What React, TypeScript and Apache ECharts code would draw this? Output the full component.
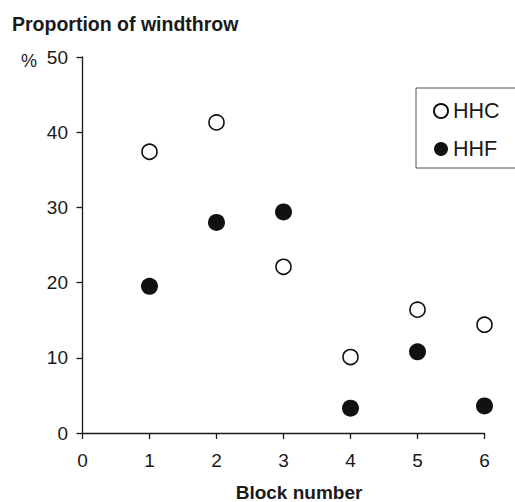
import React, { useEffect, useRef } from "react";
import * as echarts from "echarts";

const blocks = [1, 2, 3, 4, 5, 6];
const hhcValues = [37.4, 41.3, 22.1, 10.1, 16.4, 14.4];
const hhfValues = [19.5, 28.0, 29.4, 3.3, 10.8, 3.6];
const seriesNames = ["HHC", "HHF"];
const titleText = "Proportion of windthrow";
const xAxisTitle = "Block number";
const yUnit = "%";

const FONT = "'Liberation Sans', Arial, Helvetica, sans-serif";
const INK = "#1a1a1a";
const MARK = "#111111";

export default function App() {
  const ref = useRef<HTMLDivElement>(null);
  useEffect(() => {
    document.body.style.margin = "0";
    if (!ref.current) return;
    const chart = echarts.init(ref.current, null, { renderer: "svg" });
    chart.setOption({
      animation: false,
      backgroundColor: "#ffffff",
      textStyle: { fontFamily: FONT },
      title: {
        text: titleText,
        left: 12,
        top: 14,
        padding: 0,
        textStyle: { fontSize: 19.5, fontWeight: "bold", color: INK, fontFamily: FONT },
      },
      legend: {
        data: seriesNames,
        orient: "vertical",
        left: 416,
        top: 88,
        padding: [12, 17, 8, 17],
        itemGap: 16,
        itemWidth: 14,
        itemHeight: 14,
        icon: "circle",
        borderColor: "#555",
        borderWidth: 1,
        textStyle: { fontSize: 21.5, color: INK, fontFamily: FONT },
      },
      grid: { left: 82.5, right: 30.5, top: 57, bottom: 69, containLabel: false },
      xAxis: {
        type: "value",
        min: 0,
        max: 6,
        interval: 1,
        axisLine: { show: true, onZero: false, lineStyle: { color: INK, width: 1.3 } },
        axisTick: { show: true, inside: false, length: 6, lineStyle: { color: INK, width: 1.3 } },
        axisLabel: { margin: 18, fontSize: 19, color: INK, fontFamily: FONT },
        splitLine: { show: false },
      },
      yAxis: {
        type: "value",
        min: 0,
        max: 50,
        interval: 10,
        axisLine: { show: true, onZero: false, lineStyle: { color: INK, width: 1.3 } },
        axisTick: { show: true, inside: false, length: 6, lineStyle: { color: INK, width: 1.3 } },
        axisLabel: { margin: 14.5, fontSize: 19, color: INK, fontFamily: FONT },
        splitLine: { show: false },
      },
      graphic: [
        {
          type: "text",
          x: 21,
          y: 61,
          style: {
            text: yUnit,
            fontSize: 18,
            fill: INK,
            fontFamily: FONT,
            textAlign: "left",
            textVerticalAlign: "middle",
          },
        },
        {
          type: "text",
          x: 299,
          y: 492,
          style: {
            text: xAxisTitle,
            fontSize: 19,
            fontWeight: "bold",
            fill: INK,
            fontFamily: FONT,
            textAlign: "center",
            textVerticalAlign: "middle",
          },
        },
      ],
      series: [
        {
          name: seriesNames[0],
          type: "scatter",
          symbol: "circle",
          symbolSize: 15,
          data: blocks.map((b, i) => [b, hhcValues[i]]),
          itemStyle: { color: "#ffffff", borderColor: MARK, borderWidth: 1.6, opacity: 1 },
          z: 3,
        },
        {
          name: seriesNames[1],
          type: "scatter",
          symbol: "circle",
          symbolSize: 17,
          data: blocks.map((b, i) => [b, hhfValues[i]]),
          itemStyle: { color: MARK, opacity: 1 },
          z: 3,
        },
      ],
    });
    return () => chart.dispose();
  }, []);
  return <div ref={ref} style={{ width: 515, height: 502 }} />;
}
